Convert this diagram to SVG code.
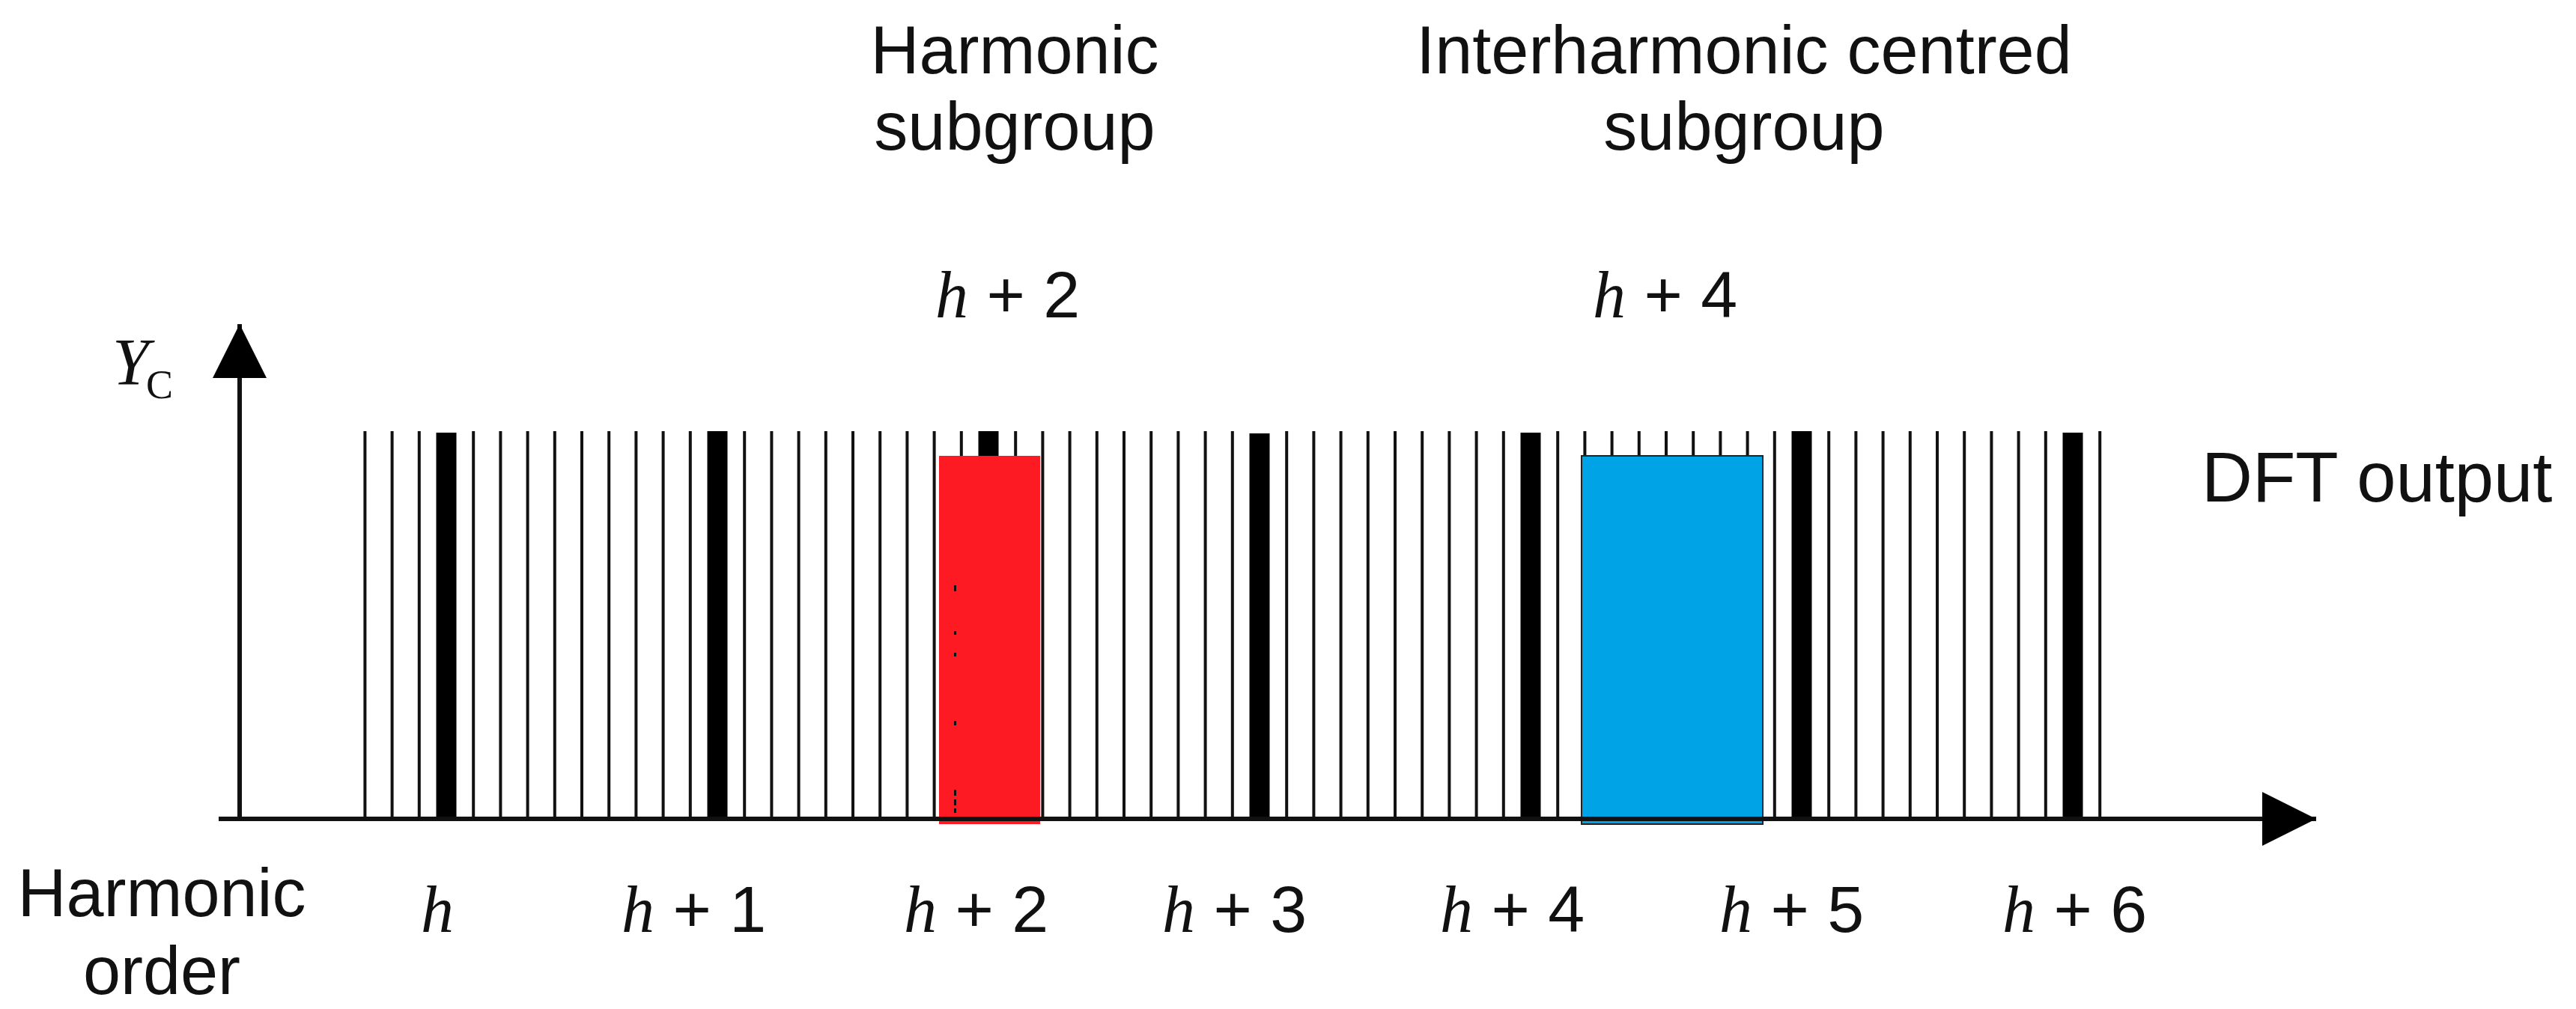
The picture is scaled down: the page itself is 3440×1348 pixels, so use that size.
<svg xmlns="http://www.w3.org/2000/svg" width="3440" height="1348" viewBox="0 0 3440 1348">
<defs>
<style>
.sans{font-family:"Liberation Sans",Arial,sans-serif;font-size:90px;fill:#111}
.lab{font-family:"Liberation Sans",Arial,sans-serif;font-size:88px;fill:#111}
.hi{font-family:"Liberation Serif","Times New Roman",serif;font-style:italic}
.thin{stroke:#111;stroke-width:4;fill:none}
.thick{fill:#000}
.axis{stroke:#111;stroke-width:6;fill:none}
</style>
<marker id="arr" markerUnits="userSpaceOnUse" markerWidth="72" markerHeight="72" viewBox="0 0 70 70" refX="70" refY="35" orient="auto">
<path d="M0,0 L70,35 L0,70 Z" fill="#000"/>
</marker>
</defs>
<rect width="3440" height="1348" fill="#fff"/>

<g id="spectrum">
<path class="thin" d="M487.4 576V1094M523.6 576V1094M559.8 576V1094M632.2 576V1094M668.4 576V1094M704.6 576V1094M740.8 576V1094M777 576V1094M813.2 576V1094M849.4 576V1094M885.6 576V1094M921.8 576V1094M994.2 576V1094M1030.4 576V1094M1066.6 576V1094M1102.8 576V1094M1139 576V1094M1175.2 576V1094M1211.4 576V1094M1247.6 576V1094M1283.8 576V1094M1356.2 576V1094M1392.4 576V1094M1428.6 576V1094M1464.8 576V1094M1501 576V1094M1537.2 576V1094M1573.4 576V1094M1609.6 576V1094M1645.8 576V1094M1718.2 576V1094M1754.4 576V1094M1790.6 576V1094M1826.8 576V1094M1863 576V1094M1899.2 576V1094M1935.4 576V1094M1971.6 576V1094M2007.8 576V1094M2080.2 576V1094M2116.4 576V1094M2152.6 576V1094M2188.8 576V1094M2225 576V1094M2261.2 576V1094M2297.4 576V1094M2333.6 576V1094M2369.8 576V1094M2442.2 576V1094M2478.4 576V1094M2514.6 576V1094M2550.8 576V1094M2587 576V1094M2623.2 576V1094M2659.4 576V1094M2695.6 576V1094M2731.8 576V1094M2804.2 576V1094"/>
<rect class="thick" x="582.5" y="578" width="27" height="516"/>
<rect class="thick" x="944.5" y="576" width="27" height="518"/>
<rect class="thick" x="1306.5" y="576" width="27" height="518"/>
<rect class="thick" x="1668.5" y="579" width="27" height="515"/>
<rect class="thick" x="2030.5" y="578" width="27" height="516"/>
<rect class="thick" x="2392.5" y="576" width="27" height="518"/>
<rect class="thick" x="2754.5" y="578" width="27" height="516"/>
</g>

<g id="harmonic-subgroup">
<rect x="1254" y="609" width="135" height="492" fill="#fe1a22"/>
<g fill="#111">
<rect x="1274" y="782" width="3" height="8"/>
<rect x="1274" y="843" width="3" height="5"/>
<rect x="1274" y="872" width="3" height="5"/>
<rect x="1274" y="963" width="3" height="6"/>
<rect x="1274" y="1055" width="3" height="8"/>
<rect x="1274" y="1068" width="3" height="8"/>
<rect x="1274" y="1080" width="3" height="6"/>
</g>
</g>

<g id="interharmonic-subgroup">
<rect x="2112" y="609" width="242" height="492" fill="#00a3e6" stroke="#222" stroke-width="2"/>
</g>

<g id="connectors">
<line class="axis" x1="320" y1="1094" x2="320" y2="433" marker-end="url(#arr)"/>
<line class="axis" x1="292" y1="1094" x2="3093" y2="1094" marker-end="url(#arr)"/>
</g>

<g id="label-yc">
<text x="150" y="513" font-family="Liberation Serif,Times New Roman,serif" font-style="italic" font-size="88" fill="#111">Y</text>
<text x="195" y="532" font-family="Liberation Serif,Times New Roman,serif" font-size="54" fill="#111">C</text>
</g>

<g id="label-harmonic-subgroup">
<text class="sans" text-anchor="middle" x="1355" y="98">Harmonic</text>
<text class="sans" text-anchor="middle" x="1355" y="200">subgroup</text>
<text class="lab" x="1249" y="424"><tspan class="hi">h</tspan> + 2</text>
</g>

<g id="label-interharmonic-subgroup">
<text class="sans" text-anchor="middle" x="2329" y="98">Interharmonic centred</text>
<text class="sans" text-anchor="middle" x="2329" y="200">subgroup</text>
<text class="lab" x="2127" y="424"><tspan class="hi">h</tspan> + 4</text>
</g>

<g id="label-dft">
<text class="sans" x="2940" y="670" font-size="94" style="font-size:94px">DFT output</text>
</g>

<g id="label-harmonic-order">
<text class="sans" text-anchor="middle" x="216" y="1224">Harmonic</text>
<text class="sans" text-anchor="middle" x="216" y="1328">order</text>
</g>

<g id="order-labels">
<text class="lab" x="562" y="1245"><tspan class="hi">h</tspan></text>
<text class="lab" x="830" y="1245"><tspan class="hi">h</tspan> + 1</text>
<text class="lab" x="1207" y="1245"><tspan class="hi">h</tspan> + 2</text>
<text class="lab" x="1552" y="1245"><tspan class="hi">h</tspan> + 3</text>
<text class="lab" x="1923" y="1245"><tspan class="hi">h</tspan> + 4</text>
<text class="lab" x="2296" y="1245"><tspan class="hi">h</tspan> + 5</text>
<text class="lab" x="2674" y="1245"><tspan class="hi">h</tspan> + 6</text>
</g>
</svg>
